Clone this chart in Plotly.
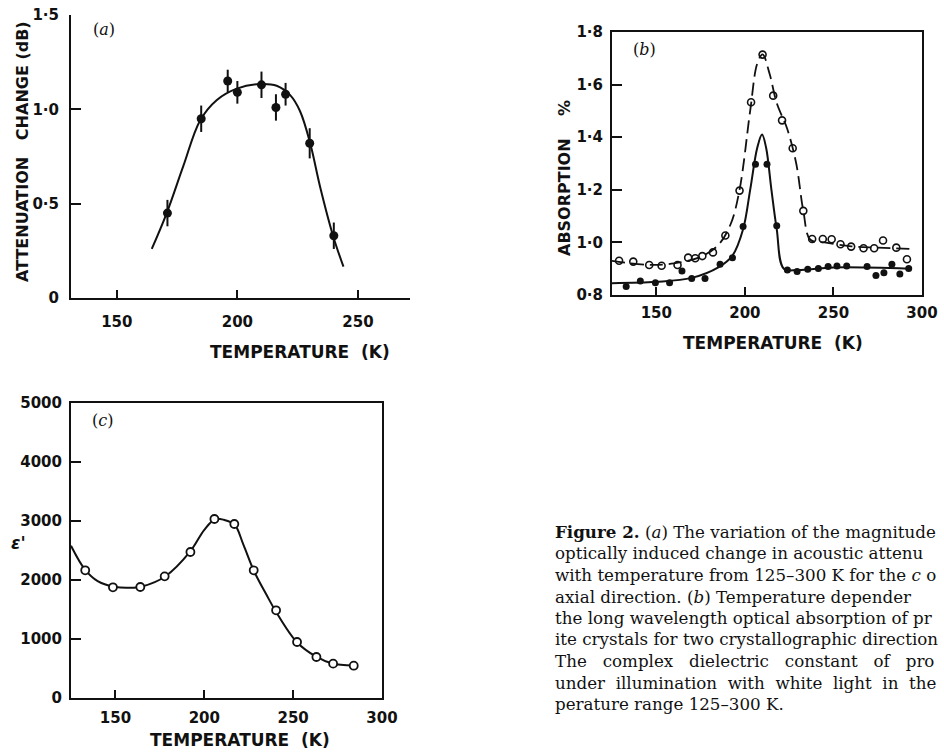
import plotly.graph_objects as go

W, H = 944, 754


def fx(p):
    return p / W


def fy(p):
    return 1 - p / H


# ---------------- Panel (a): attenuation change ----------------
a_T = [171, 185, 196, 200, 210, 216, 220, 230, 240]
a_val = [0.45, 0.95, 1.15, 1.09, 1.13, 1.01, 1.08, 0.82, 0.33]
a_err = [0.07, 0.07, 0.06, 0.06, 0.07, 0.07, 0.06, 0.08, 0.07]
a_curve_T = [164.5, 170.7, 177.6, 184.5, 191.5, 199.8, 209.4, 216.3, 221.9, 226.0, 230.2, 234.3, 239.8, 244.0]
a_curve_val = [0.26, 0.45, 0.70, 0.94, 1.05, 1.11, 1.134, 1.125, 1.075, 0.99, 0.82, 0.59, 0.325, 0.166]
a_yticks = [0, 0.5, 1.0, 1.5]
a_yticktext = ["0", "0·5", "1·0", "1·5"]
a_xticks = [150, 200, 250]

# ---------------- Panel (b): absorption ----------------
b_open_T = [129, 137, 146, 153, 162, 168, 172, 176, 182, 189, 197, 203.5, 210, 216, 221, 227, 233,
            238, 244, 249, 254, 260, 267, 273, 278, 285.5, 291.5]
b_open_val = [0.93, 0.927, 0.914, 0.911, 0.914, 0.942, 0.94, 0.948, 0.962, 1.026, 1.197, 1.533, 1.714,
              1.558, 1.464, 1.358, 1.12, 1.013, 1.013, 1.012, 0.993, 0.984, 0.978, 0.978, 1.007, 0.98, 0.936]
b_fill_T = [133, 141, 149.5, 157.5, 164.5, 170, 177.5, 186, 193, 199, 206, 212.5, 218, 224, 229.5,
            235.5, 241.5, 247, 252, 257.5, 269, 274, 278.5, 283, 287.5, 292.5]
b_fill_val = [0.832, 0.853, 0.847, 0.847, 0.891, 0.863, 0.863, 0.917, 0.942, 1.06, 1.297, 1.297, 1.063,
              0.895, 0.889, 0.898, 0.901, 0.908, 0.91, 0.91, 0.908, 0.874, 0.885, 0.917, 0.88, 0.901]
b_dash_T = [125, 145, 160, 175, 185, 192, 197, 203, 207, 210, 214, 218, 224, 229, 233, 237, 245, 260, 275, 293]
b_dash_val = [0.93, 0.915, 0.92, 0.945, 0.99, 1.07, 1.2, 1.5, 1.68, 1.715, 1.64, 1.53, 1.43, 1.3, 1.12,
              1.01, 1.0, 0.985, 0.98, 0.975]
b_solid_T = [125, 150, 170, 185, 193, 199, 203, 207, 209.7, 212, 215, 218, 222, 230, 250, 293]
b_solid_val = [0.845, 0.85, 0.865, 0.905, 0.95, 1.05, 1.2, 1.36, 1.41, 1.36, 1.2, 1.05, 0.9, 0.895, 0.905, 0.9]
b_yticks = [0.8, 1.0, 1.2, 1.4, 1.6, 1.8]
b_yticktext = ["0·8", "1·0", "1·2", "1·4", "1·6", "1·8"]
b_xticks = [150, 200, 250, 300]

# ---------------- Panel (c): dielectric constant ----------------
c_T = [133, 148.6, 164, 177.7, 192.2, 205.7, 216.9, 227.8, 240.4, 252.2, 263.1, 272.5, 284.1]
c_val = [2164, 1876, 1881, 2062, 2475, 3034, 2949, 2164, 1486, 949, 695, 582, 548]
c_curve_T = [125, 133, 140, 150, 160, 165, 178, 192, 200, 206, 211, 217, 222, 228, 235, 240, 252, 263, 272, 284]
c_curve_val = [2580, 2170, 1980, 1880, 1870, 1890, 2060, 2480, 2850, 3030, 3020, 2940, 2600, 2150, 1750,
               1480, 950, 700, 585, 550]
c_yticks = [0, 1000, 2000, 3000, 4000, 5000]
c_xticks = [150, 200, 250, 300]

caption_lines = [
    "<b>Figure 2.</b> (<i>a</i>) The variation of the magnitude",
    "optically induced change in acoustic attenu",
    "with temperature from 125–300 K for the <i>c</i> o",
    "axial direction. (<i>b</i>) Temperature depender",
    "the long wavelength optical absorption of pr",
    "ite crystals for two crystallographic direction",
    "The\u00a0\u00a0 complex\u00a0\u00a0 dielectric\u00a0\u00a0 constant\u00a0\u00a0 of\u00a0\u00a0 pro",
    "under\u00a0 illumination\u00a0 with\u00a0 white\u00a0 light\u00a0 in\u00a0 the",
    "perature range 125–300 K.",
]

INK = "#111111"
TICKFONT = dict(family="DejaVu Sans", size=15, color=INK, weight="bold")
TITLEFONT = dict(family="DejaVu Sans", size=16, color=INK, weight="bold")
XTITLEFONT = dict(family="DejaVu Sans", size=17, color=INK, weight="bold")

fig = go.Figure()

# (a)
fig.add_trace(go.Scatter(x=a_curve_T, y=a_curve_val, mode="lines", line=dict(color=INK, width=2, shape="spline"),
                         xaxis="x", yaxis="y", hoverinfo="skip"))
fig.add_trace(go.Scatter(x=a_T, y=a_val, mode="markers",
                         marker=dict(color=INK, size=9),
                         error_y=dict(type="data", array=a_err, color=INK, thickness=2, width=0),
                         xaxis="x", yaxis="y"))

# (b)
fig.add_trace(go.Scatter(x=b_dash_T, y=b_dash_val, mode="lines",
                         line=dict(color=INK, width=1.8, shape="spline", dash="13px,6px"),
                         xaxis="x2", yaxis="y2", hoverinfo="skip"))
fig.add_trace(go.Scatter(x=b_solid_T, y=b_solid_val, mode="lines",
                         line=dict(color=INK, width=2, shape="spline"),
                         xaxis="x2", yaxis="y2", hoverinfo="skip"))
fig.add_trace(go.Scatter(x=b_open_T, y=b_open_val, mode="markers",
                         marker=dict(symbol="circle-open", color=INK, size=7, line=dict(width=1.6)),
                         xaxis="x2", yaxis="y2"))
fig.add_trace(go.Scatter(x=b_fill_T, y=b_fill_val, mode="markers",
                         marker=dict(color=INK, size=7),
                         xaxis="x2", yaxis="y2"))

# (c)
fig.add_trace(go.Scatter(x=c_curve_T, y=c_curve_val, mode="lines",
                         line=dict(color=INK, width=2, shape="spline"),
                         xaxis="x3", yaxis="y3", hoverinfo="skip"))
fig.add_trace(go.Scatter(x=c_T, y=c_val, mode="markers",
                         marker=dict(symbol="circle", color="white", size=8, line=dict(color=INK, width=1.8)),
                         xaxis="x3", yaxis="y3"))

common = dict(showgrid=False, zeroline=False, linecolor=INK, linewidth=2, ticks="inside",
              tickcolor=INK, tickwidth=2, tickfont=TICKFONT, fixedrange=True, automargin=False)

fig.update_layout(
    width=W, height=H,
    margin=dict(l=0, r=0, t=0, b=0, pad=0),
    paper_bgcolor="white", plot_bgcolor="white",
    showlegend=False,
    hovermode=False,
    xaxis=dict(domain=[fx(71), fx(410)], range=[131, 271.6], tickvals=a_xticks, ticklen=8,
               anchor="y", ticklabelstandoff=9, **common),
    yaxis=dict(domain=[fy(298), fy(15)], range=[0, 1.5], tickvals=a_yticks, ticktext=a_yticktext,
               ticklen=10, anchor="x", ticklabelstandoff=7, **common),
    xaxis2=dict(domain=[fx(612), fx(922)], range=[125, 300], tickvals=b_xticks, ticklen=8,
                anchor="y2", mirror=True, ticklabelstandoff=3, **common),
    yaxis2=dict(domain=[fy(295), fy(32)], range=[0.8, 1.8], tickvals=b_yticks, ticktext=b_yticktext,
                ticklen=10, anchor="x2", mirror=True, ticklabelstandoff=4, **common),
    xaxis3=dict(domain=[fx(71), fx(382)], range=[125, 300], tickvals=c_xticks, ticklen=8,
                anchor="y3", mirror=True, ticklabelstandoff=5, **common),
    yaxis3=dict(domain=[fy(698), fy(403)], range=[0, 5000], tickvals=c_yticks, ticklen=10,
                anchor="x3", mirror=True, ticklabelstandoff=4, **common),
)

ann = []
# axis titles
ann.append(dict(text="TEMPERATURE\u00a0\u00a0(K)", x=fx(300), y=fy(352), font=XTITLEFONT))
ann.append(dict(text="ATTENUATION\u00a0\u00a0 CHANGE (dB)", x=fx(22), y=fy(152), textangle=-90, font=TITLEFONT))
ann.append(dict(text="ABSORPTION\u00a0\u00a0\u00a0 %", x=fx(565), y=fy(178), textangle=-90, font=TITLEFONT))
ann.append(dict(text="TEMPERATURE\u00a0\u00a0(K)", x=fx(773), y=fy(343), font=XTITLEFONT))
ann.append(dict(text="TEMPERATURE\u00a0\u00a0(K)", x=fx(240), y=fy(740), font=XTITLEFONT))
ann.append(dict(text="<b><i>ε'</i></b>", x=fx(18), y=fy(543), font=dict(family="DejaVu Sans", size=17, color=INK)))
# panel labels
for lab, px, py in [("(<i>a</i>)", 104, 30), ("(<i>b</i>)", 644, 50), ("(<i>c</i>)", 102, 420)]:
    ann.append(dict(text=lab, x=fx(px), y=fy(py), font=dict(family="DejaVu Serif", size=16, color=INK)))
for a in ann:
    a.update(xref="paper", yref="paper", showarrow=False, xanchor="center", yanchor="middle")

# caption
cap_y = [532, 553, 575, 597, 618, 639, 661, 683, 704]
for line, py in zip(caption_lines, cap_y):
    ann.append(dict(text=line, x=fx(553), y=fy(py), xref="paper", yref="paper", showarrow=False,
                    xanchor="left", yanchor="middle",
                    font=dict(family="DejaVu Serif", size=16.7, color=INK)))

fig.update_layout(annotations=ann)
fig.write_html("out.html", config={"displayModeBar": False, "staticPlot": True},
               post_script="document.body.style.margin='0';document.body.style.overflow='hidden';")
